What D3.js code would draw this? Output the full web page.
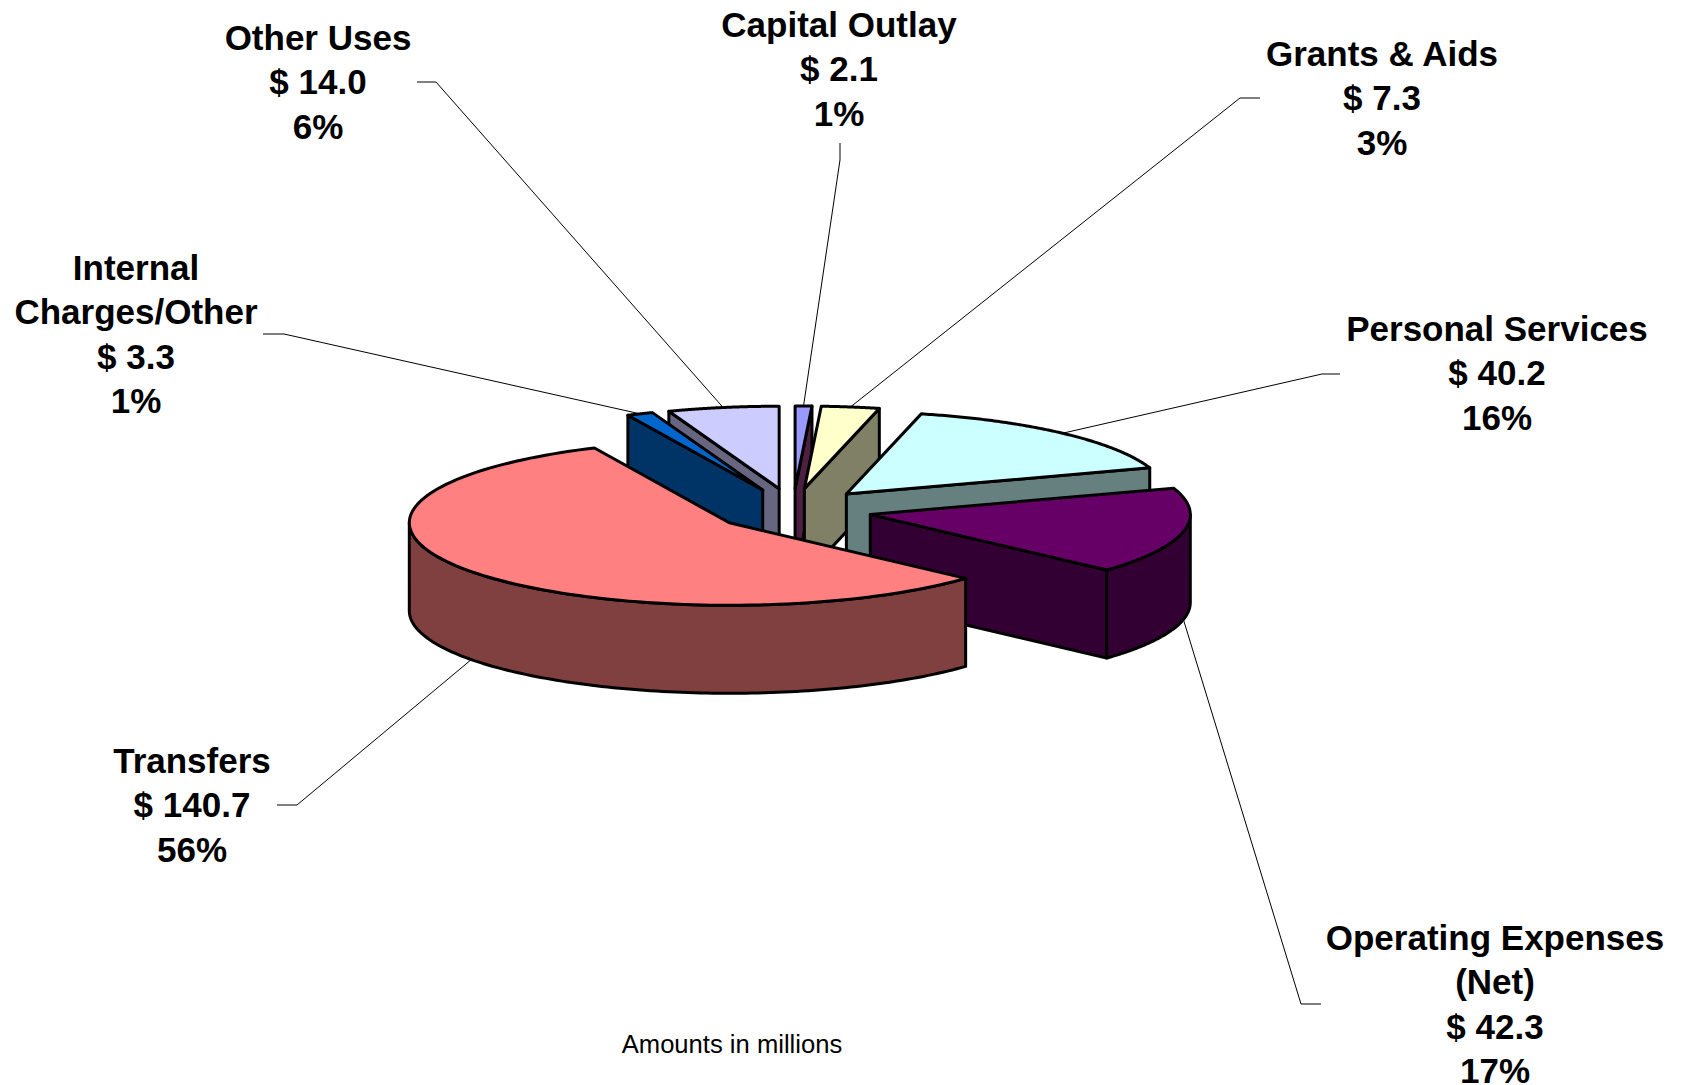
<!DOCTYPE html>
<html><head><meta charset="utf-8">
<script src="https://cdn.jsdelivr.net/npm/d3@7/dist/d3.min.js"></script>
<style>html,body{margin:0;padding:0;background:#fff}svg{display:block}</style>
</head><body>
<svg id="c" width="1684" height="1085"></svg>
<script>
// ---- data ----
const categories = ["Capital Outlay","Grants & Aids","Personal Services","Operating Expenses (Net)","Transfers","Internal Charges/Other","Other Uses"];
const amounts    = [2.1, 7.3, 40.2, 42.3, 140.7, 3.3, 14.0];
const percents   = ["1%","3%","16%","17%","56%","1%","6%"];
const labelLines = [["Capital Outlay"],["Grants & Aids"],["Personal Services"],["Operating Expenses","(Net)"],["Transfers"],["Internal","Charges/Other"],["Other Uses"]];
const topColors  = ["#9999FF","#FFFFCC","#CCFFFF","#660066","#FF8080","#0066CC","#CCCCFF"];
const sideColors = ["#4D1F40","#808066","#668080","#330033","#804040","#003366","#666680"];
const footnote   = "Amounts in millions";

// ---- layout ----
const W = 1684, H = 1085;
const centerX = 793, centerY = 510, radiusX = 320, radiusY = 82.5, explodeX = 79, explodeY = 21.6, depth = 88;
const drawOrder = [6,5,0,1,2,3,4];
const labelX  = [839, 1382, 1497, 1495, 192, 136, 318];
const labelY  = [37, 66, 341, 950, 773, 280, 50];
const elbowA  = [[840,143],[1260,98],[1340,374],[1321,1004],[277,805],[263,334],[417,82]];
const elbowB  = [[840,160],[1240,98],[1322,374],[1301,1004],[297,805],[284,334],[436,82]];
const fontSize = 35, lineGap = 44.4;

const svg = d3.select("#c");
const arcs = d3.pie().sort(null).value(d => d).startAngle(0).endAngle(2*Math.PI)(amounts);

const rx = d3.scaleLinear([0,1],[0,radiusX]);
const ry = d3.scaleLinear([0,1],[0,radiusY]);
const line = d3.line();
const apex = d => {
  const m = (d.startAngle + d.endAngle)/2;
  return [centerX + explodeX*Math.sin(m), centerY - explodeY*Math.cos(m)];
};
const rim = (d,a,dz=0) => {
  const [x,y] = apex(d);
  return [x + rx(Math.sin(a)), y - ry(Math.cos(a)) + dz];
};
const sweep = (a0,a1) => d3.range(0,121).map(i => a0 + (a1-a0)*i/120);

// leader lines, under the pie
arcs.forEach((d,i) => {
  const m = (d.startAngle + d.endAngle)/2;
  const front = m > Math.PI/2 && m < 3*Math.PI/2;
  svg.append("path").attr("d", line([elbowA[i], elbowB[i], rim(d,m, front ? depth : 0)]))
     .attr("fill","none").attr("stroke","#000").attr("stroke-width",1);
});

// slices, back to front
drawOrder.forEach(i => {
  const d = arcs[i];
  const g = svg.append("g");
  const A = apex(d);
  const style = (s,fill) => s.attr("fill",fill).attr("stroke","#000").attr("stroke-width",3).attr("stroke-linejoin","round");
  const edge = a => {
    const R = rim(d,a);
    style(g.append("path"), sideColors[i]).attr("d", line([A,R,[R[0],R[1]+depth],[A[0],A[1]+depth]])+"Z");
  };
  if (Math.sin(d.startAngle) < -1e-6) edge(d.startAngle);
  if (Math.sin(d.endAngle) > 1e-6) edge(d.endAngle);
  const a0 = Math.max(d.startAngle, Math.PI/2), a1 = Math.min(d.endAngle, 3*Math.PI/2);
  if (a1 > a0) {
    const s = sweep(a0,a1);
    const pts = s.map(a => rim(d,a)).concat(s.slice().reverse().map(a => rim(d,a,depth)));
    style(g.append("path"), sideColors[i]).attr("d", line(pts)+"Z");
  }
  style(g.append("path"), topColors[i])
    .attr("d", line([A].concat(sweep(d.startAngle,d.endAngle).map(a => rim(d,a))))+"Z");
});

// labels
arcs.forEach((d,i) => {
  const rows = labelLines[i].concat(["$ " + amounts[i].toFixed(1), percents[i]]);
  const t = svg.append("text").attr("text-anchor","middle")
    .attr("font-family","'Liberation Sans',Arial,sans-serif").attr("font-weight","bold")
    .attr("font-size",fontSize).attr("fill","#000");
  rows.forEach((r,k) => t.append("tspan").attr("x",labelX[i]).attr("y",labelY[i]+k*lineGap).text(r));
});

svg.append("text").attr("x",732).attr("y",1053).attr("text-anchor","middle")
  .attr("font-family","'Liberation Sans',Arial,sans-serif").attr("font-size",25.6).attr("fill","#000").text(footnote);
</script>
</body></html>
